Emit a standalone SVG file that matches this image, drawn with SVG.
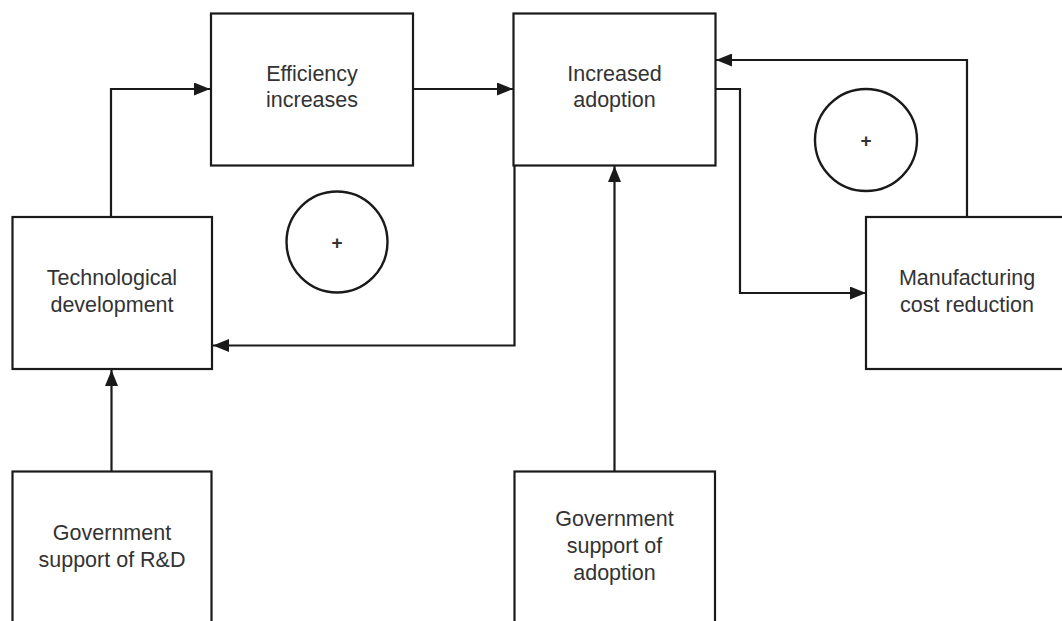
<svg xmlns="http://www.w3.org/2000/svg" width="1062" height="621" viewBox="0 0 1062 621">
  <style>
    .box { fill: #ffffff; stroke: #1a1a1a; stroke-width: 2.2; }
    .loop { fill: none; stroke: #1a1a1a; stroke-width: 2.4; }
    .link { fill: none; stroke: #1a1a1a; stroke-width: 2.2; marker-end: url(#arrow); }
    .label { font-family: "Liberation Sans", Arial, sans-serif; font-size: 21.5px; fill: #333333; text-anchor: middle; }
    .sign { font-family: "Liberation Sans", Arial, sans-serif; font-size: 19px; font-weight: bold; fill: #333333; text-anchor: middle; }
  </style>
  <defs>
    <marker id="arrow" markerUnits="userSpaceOnUse" markerWidth="17" markerHeight="13" refX="16" refY="6.5" orient="auto">
      <path d="M0,0 L16,6.5 L0,13 z" fill="#1a1a1a"/>
    </marker>
  </defs>
  <rect width="1062" height="621" fill="#ffffff"/>

  <!-- connectors -->
  <g id="connectors">
    <path class="link" d="M111,216 V89 H210"/>
    <path class="link" d="M413,89 H513"/>
    <path class="link" d="M514.5,166 V345.5 H213"/>
    <path class="link" d="M715,89 H740 V293 H866"/>
    <path class="link" d="M967,216 V60 H716"/>
    <path class="link" d="M614.5,471 V166"/>
    <path class="link" d="M111.5,471 V370"/>
  </g>

  <!-- loop polarity markers -->
  <g id="loop-left">
    <circle class="loop" cx="337" cy="242" r="50.5"/>
    <text class="sign" x="337" y="249">+</text>
  </g>
  <g id="loop-right">
    <circle class="loop" cx="866" cy="140" r="51"/>
    <text class="sign" x="866" y="147">+</text>
  </g>

  <g id="efficiency">
    <rect class="box" x="211" y="13.5" width="202" height="152"/>
    <text class="label" x="312" y="80.5">Efficiency</text>
    <text class="label" x="312" y="107.3">increases</text>
  </g>

  <g id="adoption">
    <rect class="box" x="513.5" y="13.5" width="202" height="152"/>
    <text class="label" x="614.5" y="80.5">Increased</text>
    <text class="label" x="614.5" y="107.3">adoption</text>
  </g>

  <g id="technology">
    <rect class="box" x="12.5" y="217" width="199.5" height="152"/>
    <text class="label" x="112" y="285">Technological</text>
    <text class="label" x="112" y="311.7">development</text>
  </g>

  <g id="manufacturing">
    <rect class="box" x="866" y="217" width="200" height="152"/>
    <text class="label" x="967" y="285">Manufacturing</text>
    <text class="label" x="967" y="311.7">cost reduction</text>
  </g>

  <g id="gov-rnd">
    <rect class="box" x="12.5" y="471.5" width="199" height="160"/>
    <text class="label" x="112" y="540">Government</text>
    <text class="label" x="112" y="566.5">support of R&amp;D</text>
  </g>

  <g id="gov-adoption">
    <rect class="box" x="514.5" y="471.5" width="200.5" height="160"/>
    <text class="label" x="614.5" y="526">Government</text>
    <text class="label" x="614.5" y="553">support of</text>
    <text class="label" x="614.5" y="580">adoption</text>
  </g>
</svg>
